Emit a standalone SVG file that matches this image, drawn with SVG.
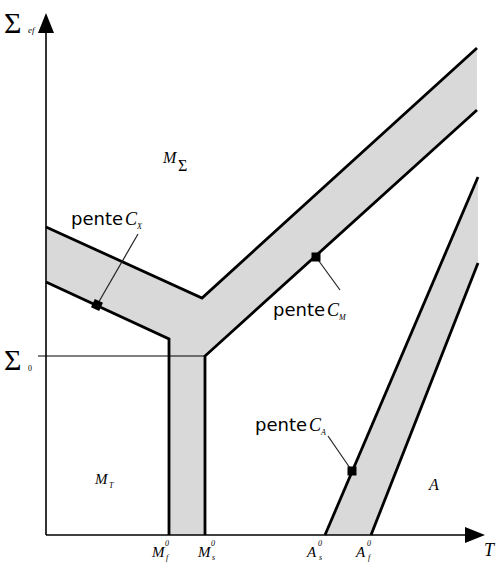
<svg xmlns="http://www.w3.org/2000/svg" width="496" height="563" viewBox="0 0 496 563">
<style>
.band{fill:#d9d9d9;stroke:none}
.edge{fill:none;stroke:#000;stroke-width:2.8;stroke-linejoin:miter}
.axis{fill:none;stroke:#000;stroke-width:1.6}
.thin{fill:none;stroke:#000;stroke-width:1.2}
.lead{fill:none;stroke:#222;stroke-width:1.2}
.sq{fill:#000}
.lbl{font-family:"DejaVu Sans",sans-serif;font-size:18px;fill:#000}
.it{font-family:"Liberation Serif",serif;font-style:italic;fill:#000}
.sig{font-family:"Liberation Serif",serif;fill:#000}
</style>
<rect width="496" height="563" fill="#fff"/>
<g id="bands">
<polygon class="band" points="46,227 202,298 477,48 477,110 205,356 205,535 169,535 169,339 46,282"/>
<polygon class="band" points="325,535 478,177 478,263 371,535"/>
</g>
<g id="connectors">
<line class="axis" x1="46" y1="535" x2="46" y2="30"/>
<polygon points="46,13 38,33 54,33" fill="#000"/>
<line class="axis" x1="46" y1="535" x2="470" y2="535"/>
<polygon points="485,535 465,527 465,543" fill="#000"/>
<line class="thin" x1="38" y1="356" x2="205" y2="356"/>
<polyline class="edge" points="46,227 202,298 477,48"/>
<polyline class="edge" points="46,282 169,339 169,535"/>
<polyline class="edge" points="477,110 205,356 205,535"/>
<line class="edge" x1="325" y1="535" x2="478" y2="177"/>
<line class="edge" x1="371" y1="535" x2="478" y2="263"/>
<line class="lead" x1="97" y1="305" x2="138" y2="234"/>
<line class="lead" x1="316" y1="257" x2="340" y2="290"/>
<line class="lead" x1="352" y1="471" x2="328" y2="436"/>
</g>
<g id="markers">
<rect class="sq" x="92.5" y="300.5" width="9" height="9" transform="rotate(25 97 305)"/>
<rect class="sq" x="311.5" y="252.5" width="9" height="9"/>
<rect class="sq" x="347.5" y="466.5" width="9" height="9"/>
</g>
<g id="labels">
<text class="sig" x="4" y="33" font-size="30">Σ</text>
<text class="it" x="28" y="33" font-size="9" fill="#555">ef</text>
<text class="sig" x="4" y="370" font-size="30">Σ</text>
<text class="sig" x="28" y="371" font-size="8" fill="#888">0</text>
<g id="cx"><text class="lbl" x="71" y="225">pente</text><text class="it" x="125" y="225" font-size="18">C</text><text class="it" x="137" y="229" font-size="8">X</text></g>
<g id="cm"><text class="lbl" x="273" y="316">pente</text><text class="it" x="327" y="316" font-size="18">C</text><text class="it" x="339" y="320" font-size="8">M</text></g>
<g id="ca"><text class="lbl" x="255" y="431">pente</text><text class="it" x="309" y="431" font-size="18">C</text><text class="it" x="321" y="435" font-size="8">A</text></g>
<text class="it" x="163" y="163" font-size="16">M</text><text class="sig" x="178" y="171" font-size="16">Σ</text>
<text class="it" x="95" y="484" font-size="15">M</text><text class="it" x="109" y="488" font-size="8">T</text>
<text class="it" x="429" y="490" font-size="16">A</text>
<text class="it" x="484" y="556" font-size="18">T</text>
<text class="it" x="152" y="557" font-size="15">M</text><text class="it" x="165" y="546" font-size="8">0</text><text class="it" x="166" y="560" font-size="8">f</text>
<text class="it" x="198" y="557" font-size="15">M</text><text class="it" x="211" y="546" font-size="8">0</text><text class="it" x="212" y="560" font-size="8">s</text>
<text class="it" x="307" y="557" font-size="15">A</text><text class="it" x="318" y="546" font-size="8">0</text><text class="it" x="319" y="560" font-size="8">s</text>
<text class="it" x="356" y="557" font-size="15">A</text><text class="it" x="367" y="546" font-size="8">0</text><text class="it" x="368" y="560" font-size="8">f</text>
</g>
</svg>
